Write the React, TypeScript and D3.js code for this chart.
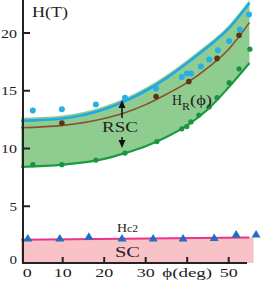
import React, { useEffect, useRef } from "react"
import * as d3 from "d3"

// fitted curves (deg -> field in T)
const curveDeg = [0, 10, 20, 25, 30, 35, 40, 45, 50, 55]
const upperLine = [12.4, 12.6, 13.4, 14.1, 15.0, 16.1, 17.4, 18.8, 20.4, 22.6]
const hrLine = [11.8, 12.0, 12.6, 13.1, 13.8, 14.7, 15.7, 17.0, 18.6, 20.9]
const lowerLine = [8.4, 8.6, 9.1, 9.6, 10.2, 11.0, 12.0, 13.4, 15.3, 17.4]

const hc2Deg = [0, 56]
const hc2Line = [2.1, 2.3]

// measured points
const blueDeg = [2.8, 9.8, 18.0, 25.0, 32.5, 38.7, 39.9, 40.9, 43.3, 45.3, 47.4, 50.1, 52.7, 54.9]
const blueH = [13.3, 13.4, 13.8, 14.4, 15.2, 16.2, 16.5, 16.5, 17.1, 17.7, 18.5, 19.3, 20.3, 21.6]

const brownDeg = [9.8, 32.5, 40.4, 47.2, 52.5]
const brownH = [12.2, 14.5, 15.8, 17.8, 19.8]

const greenDeg = [2.8, 9.8, 18.0, 25.0, 32.7, 38.7, 39.9, 40.9, 42.8, 45.3, 47.2, 50.1, 52.5, 55.1]
const greenH = [8.6, 8.6, 9.0, 9.6, 10.6, 11.7, 11.9, 12.3, 12.9, 13.6, 14.4, 15.7, 16.9, 18.6]

const triDeg = [1.6, 9.3, 16.3, 24.3, 31.8, 39.0, 46.5, 51.8, 56.6]
const triH = [2.25, 2.25, 2.4, 2.25, 2.25, 2.25, 2.3, 2.6, 2.6]

const yTicks = [0, 5, 10, 15, 20]
const xTicks = [10, 20, 30, 40, 50]
const xTickValues = [0, 10, 20, 30, 40, 50]
const xTickLabels = ["0", "10", "20", "30", "ϕ(deg)", "50"]

const FONT = "'Liberation Serif', 'Times New Roman', serif"

const App = () => {
  const ref = useRef<SVGSVGElement>(null)

  useEffect(() => {
    const svg = d3.select(ref.current)
    svg.selectAll("*").remove()

    const x = d3.scaleLinear().domain([0, 50]).range([21.2, 228.7])
    const y = d3.scaleLinear().domain([0, 20]).range([264, 33])
    const axisX = 23
    const axisY = 263

    const pts = (ds: number[], hs: number[]) => ds.map((d, i) => [d, hs[i]] as [number, number])

    // SC region
    const hc2 = pts(hc2Deg, hc2Line)
    svg
      .append("path")
      .attr(
        "d",
        d3
          .area<[number, number]>()
          .x((d) => x(d[0]))
          .y0(axisY)
          .y1((d) => y(d[1]))(hc2)
      )
      .attr("fill", "#f8c2c7")

    // RSC band
    const band = curveDeg.map((d, i) => ({ d, lo: lowerLine[i], hi: upperLine[i] }))
    svg
      .append("path")
      .attr(
        "d",
        d3
          .area<{ d: number; lo: number; hi: number }>()
          .curve(d3.curveMonotoneX)
          .x((p) => x(p.d))
          .y0((p) => y(p.lo))
          .y1((p) => y(p.hi) - 3)(band)
      )
      .attr("fill", "#8fcc8f")

    const line = d3
      .line<[number, number]>()
      .curve(d3.curveMonotoneX)
      .x((d) => x(d[0]))
      .y((d) => y(d[1]))

    svg
      .append("path")
      .attr("d", line(pts(curveDeg, lowerLine)))
      .attr("fill", "none")
      .attr("stroke", "#1b9a46")
      .attr("stroke-width", 2.2)
    svg
      .append("path")
      .attr("d", line(pts(curveDeg, hrLine)))
      .attr("fill", "none")
      .attr("stroke", "#8a4f2e")
      .attr("stroke-width", 1.6)
    svg
      .append("path")
      .attr("d", line(pts(curveDeg, upperLine)))
      .attr("fill", "none")
      .attr("stroke", "#22a8e3")
      .attr("stroke-width", 2.6)

    svg
      .append("path")
      .attr("d", line(pts([0, 55], hc2Line)))
      .attr("fill", "none")
      .attr("stroke", "#e6358a")
      .attr("stroke-width", 2)

    // dots
    const dots = (ds: number[], hs: number[], color: string, r: number) =>
      svg
        .append("g")
        .selectAll("circle")
        .data(pts(ds, hs))
        .join("circle")
        .attr("cx", (d) => x(d[0]))
        .attr("cy", (d) => y(d[1]))
        .attr("r", r)
        .attr("fill", color)

    dots(blueDeg, blueH, "#2aaee6", 3)
    dots(brownDeg, brownH, "#5b3413", 2.8)
    dots(greenDeg, greenH, "#1a9440", 2.6)

    // triangles
    svg
      .append("g")
      .selectAll("path")
      .data(pts(triDeg, triH))
      .join("path")
      .attr("transform", (d) => `translate(${x(d[0])},${y(d[1])})`)
      .attr("d", "M0,-4 L4.5,3.5 L-4.5,3.5 Z")
      .attr("fill", "#1c6fc2")

    // axes
    svg
      .append("line")
      .attr("x1", axisX)
      .attr("x2", axisX)
      .attr("y1", 0)
      .attr("y2", axisY + 1)
      .attr("stroke", "#222")
      .attr("stroke-width", 2)
    svg
      .append("line")
      .attr("x1", axisX - 1)
      .attr("x2", 247)
      .attr("y1", axisY)
      .attr("y2", axisY)
      .attr("stroke", "#222")
      .attr("stroke-width", 2)

    svg
      .append("g")
      .selectAll("line")
      .data(yTicks.filter((t) => t > 0))
      .join("line")
      .attr("x1", axisX)
      .attr("x2", axisX + 7)
      .attr("y1", (d) => y(d))
      .attr("y2", (d) => y(d))
      .attr("stroke", "#222")
      .attr("stroke-width", 2)

    svg
      .append("g")
      .selectAll("line")
      .data(xTicks)
      .join("line")
      .attr("x1", (d) => x(d))
      .attr("x2", (d) => x(d))
      .attr("y1", axisY)
      .attr("y2", axisY - 6)
      .attr("stroke", "#222")
      .attr("stroke-width", 2)

    svg
      .append("g")
      .selectAll("text")
      .data(yTicks)
      .join("text")
      .attr("x", 17)
      .attr("y", (d) => (d === 0 ? y(d) - 5 : y(d)) + 4.5)
      .attr("text-anchor", "end")
      .attr("font-family", FONT)
      .attr("font-size", 13.5)
      .attr("fill", "#222")
      .attr("textLength", (d) => (String(d).length === 1 ? 7.5 : 16))
      .attr("lengthAdjust", "spacingAndGlyphs")
      .text((d) => d)

    svg
      .append("g")
      .selectAll("text")
      .data(xTickValues)
      .join("text")
      .attr("x", (d) => x(d) + (d === 0 ? 6 : 0))
      .attr("y", 277)
      .attr("text-anchor", "middle")
      .attr("font-family", FONT)
      .attr("font-size", 13)
      .attr("fill", "#222")
      .attr("textLength", (d, i) => (xTickLabels[i].length > 2 ? 50 : xTickLabels[i].length * 9))
      .attr("lengthAdjust", "spacingAndGlyphs")
      .text((d, i) => xTickLabels[i])

    const label = (tx: number, ty: number, s: string, size: number, len: number) =>
      svg
        .append("text")
        .attr("x", tx)
        .attr("y", ty)
        .attr("font-family", FONT)
        .attr("font-size", size)
        .attr("fill", "#222")
        .attr("textLength", len)
        .attr("lengthAdjust", "spacingAndGlyphs")
        .text(s)

    label(32, 17, "H(T)", 14, 36)
    label(102, 132, "RSC", 14.5, 36)
    label(115, 257, "SC", 14.5, 25)
    label(172, 105, "H", 14, 10)
    label(182, 110, "R", 11, 8)
    label(190, 105, "(ϕ)", 14, 22)
    label(117, 232, "H", 13, 10)
    label(127, 232, "c2", 10, 11)

    // arrows
    const ax = 122
    svg.append("line").attr("x1", ax).attr("x2", ax).attr("y1", 118).attr("y2", 104).attr("stroke", "#111").attr("stroke-width", 1.5)
    svg.append("path").attr("d", `M${ax},100 L${ax + 3.5},108 L${ax - 3.5},108 Z`).attr("fill", "#111")
    svg.append("line").attr("x1", ax).attr("x2", ax).attr("y1", 137).attr("y2", 144).attr("stroke", "#111").attr("stroke-width", 1.5)
    svg.append("path").attr("d", `M${ax},148 L${ax + 3.5},140 L${ax - 3.5},140 Z`).attr("fill", "#111")
  })

  return (
    <svg
      ref={ref}
      width={273}
      height={282}
      style={{ position: "absolute", left: 0, top: 0, background: "#fff" }}
    />
  )
}

export default App
